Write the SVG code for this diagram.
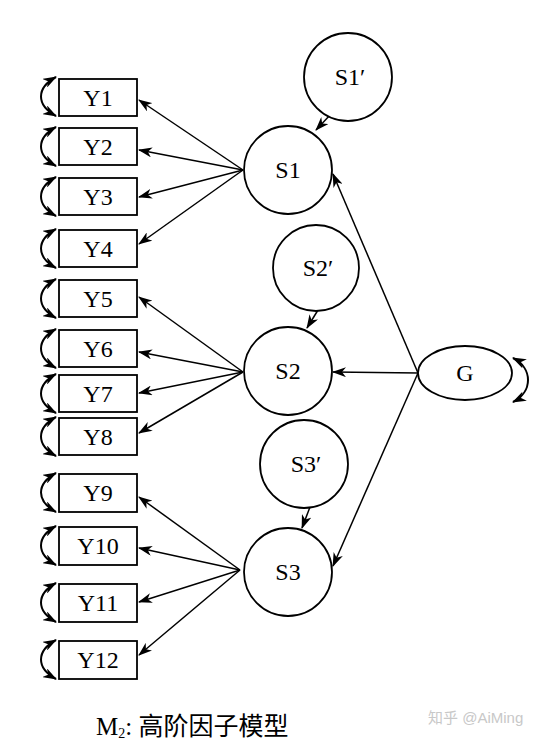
<svg xmlns="http://www.w3.org/2000/svg" width="548" height="745" viewBox="0 0 548 745">
<defs>
<marker id="ah" markerWidth="14" markerHeight="10" refX="13" refY="5" orient="auto" markerUnits="userSpaceOnUse">
<path d="M0,0 L14,5 L0,10 L4,5 z" fill="#000"/>
</marker>
<marker id="ahs" markerWidth="14" markerHeight="10" refX="13" refY="5" orient="auto-start-reverse" markerUnits="userSpaceOnUse">
<path d="M0,0 L14,5 L0,10 L4,5 z" fill="#000"/>
</marker>
<style>
.box{fill:#fff;stroke:#000;stroke-width:1.8}
.circ{fill:#fff;stroke:#000;stroke-width:1.8}
.lbl{font-size:24px;text-anchor:middle;fill:#000}
.ln{stroke:#000;stroke-width:1.5;fill:none;marker-end:url(#ah)}
.loop{stroke:#000;stroke-width:2;fill:none;marker-start:url(#ahs);marker-end:url(#ahs)}
</style>
</defs>
<rect width="548" height="745" fill="#fff"/>
<g id="connectors">
<line class="ln" x1="243" y1="170" x2="139" y2="100"/>
<line class="ln" x1="243" y1="170" x2="139" y2="150"/>
<line class="ln" x1="243" y1="170" x2="139" y2="197"/>
<line class="ln" x1="243" y1="170" x2="139" y2="244"/>
<line class="ln" x1="243" y1="372" x2="139" y2="297"/>
<line class="ln" x1="243" y1="372" x2="139" y2="352"/>
<line class="ln" x1="243" y1="372" x2="139" y2="393"/>
<line class="ln" x1="243" y1="372" x2="139" y2="433"/>
<line class="ln" x1="240" y1="570" x2="139" y2="497"/>
<line class="ln" x1="240" y1="570" x2="139" y2="548"/>
<line class="ln" x1="240" y1="570" x2="139" y2="602"/>
<line class="ln" x1="240" y1="570" x2="139" y2="655"/>
<line class="ln" x1="418" y1="373" x2="333" y2="174"/>
<line class="ln" x1="418" y1="373" x2="333" y2="372"/>
<line class="ln" x1="418" y1="373" x2="333" y2="566"/>
<line class="ln" x1="331" y1="114" x2="316" y2="130"/>
<line class="ln" x1="318" y1="310" x2="307" y2="328"/>
<line class="ln" x1="310" y1="507" x2="302" y2="528"/>
<path class="loop" d="M56,77 C36,88 36,105 56,116"/>
<path class="loop" d="M56,127 C36,138 36,155 56,166"/>
<path class="loop" d="M56,177 C36,188 36,205 56,216"/>
<path class="loop" d="M56,229 C36,240 36,257 56,268"/>
<path class="loop" d="M56,279 C36,290 36,307 56,318"/>
<path class="loop" d="M56,329 C36,340 36,357 56,368"/>
<path class="loop" d="M56,374 C36,385 36,402 56,413"/>
<path class="loop" d="M56,417 C36,428 36,445 56,456"/>
<path class="loop" d="M56,473 C36,484 36,501 56,512"/>
<path class="loop" d="M56,526 C36,537 36,554 56,565"/>
<path class="loop" d="M56,583 C36,594 36,611 56,622"/>
<path class="loop" d="M56,640 C36,651 36,668 56,679"/>
<path class="loop" d="M513,358 C533,368 533,392 513,402"/>
</g>
<g font-family="'Liberation Serif', 'Times New Roman', serif">
<g id="Y1"><rect class="box" x="59" y="79" width="78" height="37"/><text class="lbl" x="98" y="106">Y1</text></g>
<g id="Y2"><rect class="box" x="59" y="128" width="78" height="37"/><text class="lbl" x="98" y="155">Y2</text></g>
<g id="Y3"><rect class="box" x="59" y="178" width="78" height="37"/><text class="lbl" x="98" y="205">Y3</text></g>
<g id="Y4"><rect class="box" x="59" y="230" width="78" height="37"/><text class="lbl" x="98" y="257">Y4</text></g>
<g id="Y5"><rect class="box" x="59" y="280" width="78" height="37"/><text class="lbl" x="98" y="307">Y5</text></g>
<g id="Y6"><rect class="box" x="59" y="330" width="78" height="37"/><text class="lbl" x="98" y="357">Y6</text></g>
<g id="Y7"><rect class="box" x="59" y="375" width="78" height="37"/><text class="lbl" x="98" y="402">Y7</text></g>
<g id="Y8"><rect class="box" x="59" y="418" width="78" height="37"/><text class="lbl" x="98" y="445">Y8</text></g>
<g id="Y9"><rect class="box" x="59" y="474" width="78" height="38"/><text class="lbl" x="98" y="501">Y9</text></g>
<g id="Y10"><rect class="box" x="59" y="527" width="78" height="38"/><text class="lbl" x="98" y="554">Y10</text></g>
<g id="Y11"><rect class="box" x="59" y="584" width="78" height="38"/><text class="lbl" x="98" y="611">Y11</text></g>
<g id="Y12"><rect class="box" x="59" y="641" width="78" height="38"/><text class="lbl" x="98" y="668">Y12</text></g>
<g id="S1p"><circle class="circ" cx="348" cy="77" r="44"/><text class="lbl" x="350" y="85">S1′</text></g>
<g id="S1"><circle class="circ" cx="288" cy="170" r="44"/><text class="lbl" x="288" y="178">S1</text></g>
<g id="S2p"><circle class="circ" cx="316" cy="268" r="43"/><text class="lbl" x="318" y="276">S2′</text></g>
<g id="S2"><circle class="circ" cx="288" cy="371" r="44"/><text class="lbl" x="288" y="379">S2</text></g>
<g id="S3p"><circle class="circ" cx="304" cy="464" r="44"/><text class="lbl" x="306" y="472">S3′</text></g>
<g id="S3"><circle class="circ" cx="288" cy="572" r="44"/><text class="lbl" x="288" y="580">S3</text></g>
<g id="G"><ellipse class="circ" cx="465" cy="373" rx="47" ry="27"/><text class="lbl" x="465" y="381">G</text></g>
</g>
<g id="caption">
<text x="96" y="735" font-family="'Liberation Serif', 'Noto Sans CJK SC', serif" font-size="25" fill="#000">M<tspan font-size="14" dy="3">2</tspan><tspan dy="-3">: 高阶因子模型</tspan></text>
<text x="428" y="723" font-family="'Liberation Sans', 'Noto Sans CJK SC', sans-serif" font-size="15" fill="#c8c8c8">知乎 @AiMing</text>
</g>
</svg>
